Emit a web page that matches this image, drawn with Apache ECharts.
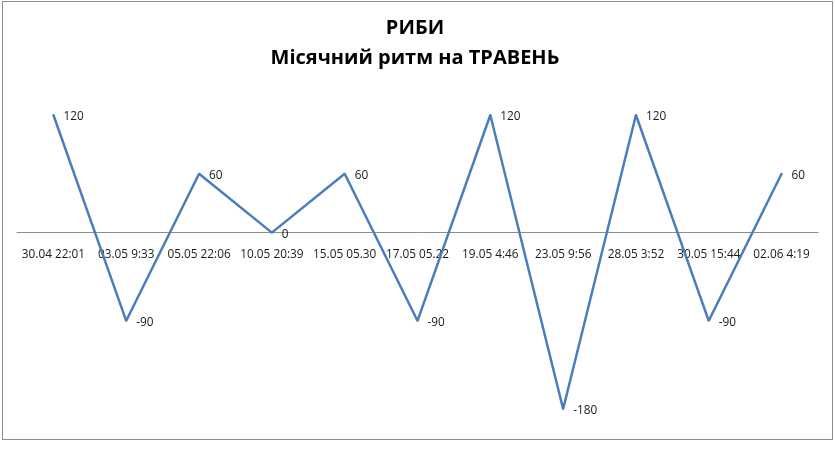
<!DOCTYPE html>
<html><head><meta charset="utf-8">
<script src="https://cdn.jsdelivr.net/npm/echarts@6/dist/echarts.min.js"></script>
<style>html,body{margin:0;padding:0;background:#fff}#c{width:835px;height:463px}
#frame{position:absolute;left:2px;top:1px;width:831px;height:439px;border:1px solid #8c8c8c;box-sizing:border-box;pointer-events:none}</style>
</head><body><div id="c"></div><div id="frame"></div>
<script>
const titleLines = ['РИБИ', 'Місячний ритм на ТРАВЕНЬ'];
const categories = ['30.04 22:01','03.05 9:33','05.05 22:06','10.05 20:39','15.05 05.30','17.05 05.22','19.05 4:46','23.05 9:56','28.05 3:52','30.05 15:44','02.06 4:19'];
const values = [120, -90, 60, 0, 60, -90, 120, -180, 120, -90, 60];

const font = '"Open Sans", "Noto Sans", sans-serif';
const yMin = -180, yMax = 120;
const gridTop = 115, gridBottom = 54;
const plotH = 463 - gridTop - gridBottom;
const zeroOffset = plotH * (0 - yMin) / (yMax - yMin);

const chart = echarts.init(document.getElementById('c'));
chart.setOption({
  animation: false,
  title: {
    text: titleLines.join('\n'),
    left: 410, top: 8, textAlign: 'center',
    textStyle: {fontFamily: font, fontWeight: 'bold', fontSize: 20, color: '#000', lineHeight: 30}
  },
  grid: {left: 17, right: 17, top: gridTop, bottom: gridBottom, containLabel: false},
  xAxis: {
    type: 'category', data: categories, boundaryGap: true,
    position: 'bottom', offset: -zeroOffset,
    axisLine: {onZero: false, lineStyle: {color: '#8c8c8c', width: 1}},
    axisTick: {show: false},
    axisLabel: {interval: 0, margin: 16, color: '#1a1a1a', fontFamily: font, fontSize: 11.8}
  },
  yAxis: {type: 'value', min: yMin, max: yMax, show: false, splitLine: {show: false}},
  series: [{
    type: 'line', data: values, symbol: 'circle', symbolSize: 2, showSymbol: true, showAllSymbol: true,
    itemStyle: {color: '#4a7ebb'},
    lineStyle: {color: '#4a7ebb', width: 2.5},
    label: {show: true, position: 'right', distance: 9, offset: [0, 2], color: '#1a1a1a', fontFamily: font, fontSize: 11.8},
    emphasis: {disabled: true}
  }]
});
</script></body></html>
